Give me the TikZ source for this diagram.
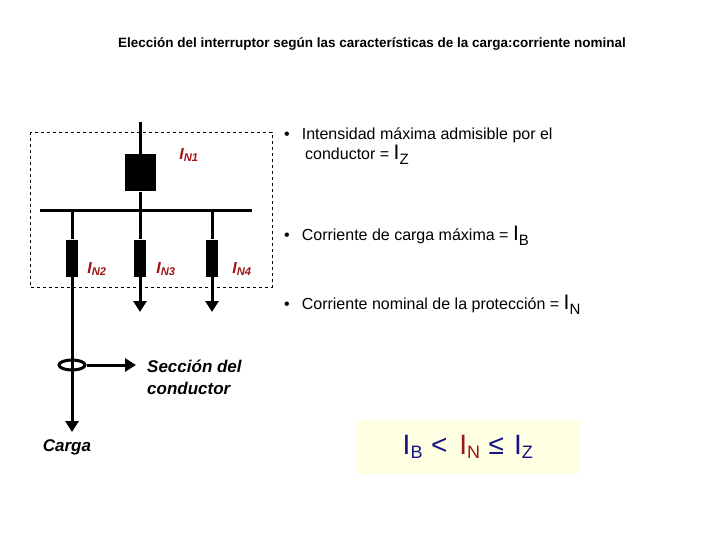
\documentclass[tikz,border=0pt]{standalone}
\usepackage{fontspec}
\setmainfont{Liberation Sans}
\usepackage{tikz}
\definecolor{fuseRed}{RGB}{160, 20, 20}
\definecolor{formulaBlue}{RGB}{20, 20, 130}
\definecolor{formulaBg}{RGB}{255, 255, 228}
\usetikzlibrary{shapes.geometric, arrows.meta, positioning}

\begin{document}
\begin{tikzpicture}[
    x=1pt, y=-1pt,
    wire/.style={line width=3pt, black},
    arrow/.style={wire, -{Triangle[length=11pt, width=13pt]}},
    fuse/.style={rectangle, fill=black, minimum width=12pt, minimum height=37pt, inner sep=0pt},
    rating/.style={font=\fontsize{16}{18}\selectfont\bfseries\itshape, text=fuseRed, inner sep=0pt},
    bullet/.style={font=\fontsize{16}{20}\selectfont, align=left, anchor=north west, inner sep=0pt},
    caption/.style={font=\fontsize{17}{22}\selectfont\bfseries\itshape, align=left, inner sep=0pt}
]
    \useasboundingbox (0,0) rectangle (720,540);
    \node[font=\fontsize{13.5}{16}\selectfont\bfseries] (title) at (372,44) {Elección del interruptor según las características de la carga:corriente nominal};

    % cuadro de distribucion
    \draw[dashed, thick] (30,132) rectangle (272,287);
    \coordinate (feed) at (140,122);
    \node[fuse, minimum width=31pt] (f1) at (140,173) {};
    \coordinate (busL) at (40,211);
    \coordinate (busR) at (252,211);
    \draw[wire] (feed) -- (f1);
    \draw[wire] (f1) -- (140,211);
    \draw[wire] (busL) -- (busR);
    \node[fuse] (f2) at (72,258) {};
    \node[fuse] (f3) at (140,258) {};
    \node[fuse] (f4) at (212,258) {};
    \coordinate (out3) at (140,312);
    \coordinate (out4) at (212,312);
    \coordinate (load) at (72,432);
    \draw[wire] (72,211) -- (f2);
    \draw[wire] (140,211) -- (f3);
    \draw[wire] (212,211) -- (f4);
    \draw[arrow] (f3) -- (out3);
    \draw[arrow] (f4) -- (out4);
    \draw[arrow] (f2) -- (load);

    \node[rating] (n1) at (189,155) {I\textsubscript{N1}};
    \node[rating] (n2) at (97,269) {I\textsubscript{N2}};
    \node[rating] (n3) at (166,269) {I\textsubscript{N3}};
    \node[rating] (n4) at (242,269) {I\textsubscript{N4}};

    % seccion del conductor
    \node[draw, ellipse, line width=3pt, minimum width=26pt, minimum height=10pt, inner sep=0pt] (sec) at (72,365) {};
    \coordinate (secEnd) at (136,365);
    \draw[arrow] (sec.east) -- (secEnd);
    \node[caption, anchor=north west] (seccion) at (147,360) {Sección del\\conductor};
    \node[caption] (carga) at (67,447) {Carga};

    % condiciones
    \node[bullet] (b1) at (284,128) {•\hspace{12pt}Intensidad máxima admisible por el\\\hspace{21pt}conductor = {\fontsize{21}{20}\selectfont I}\textsubscript{\fontsize{15}{15}\selectfont Z}};
    \node[bullet] (b2) at (284,226) {•\hspace{12pt}Corriente de carga máxima = {\fontsize{21}{20}\selectfont I}\textsubscript{\fontsize{15}{15}\selectfont B}};
    \node[bullet] (b3) at (284,295) {•\hspace{12pt}Corriente nominal de la protección = {\fontsize{21}{20}\selectfont I}\textsubscript{\fontsize{15}{15}\selectfont N}};

    \node[fill=formulaBg, minimum width=223pt, minimum height=54pt, inner sep=0pt,
          font=\fontsize{28}{30}\selectfont, text=formulaBlue] (formula) at (468,447)
        {I\textsubscript{\fontsize{18}{18}\selectfont B}\hspace{8pt}<\hspace{12pt}\textcolor{fuseRed}{I\textsubscript{\fontsize{18}{18}\selectfont N}}\hspace{8pt}≤\hspace{10pt}I\textsubscript{\fontsize{18}{18}\selectfont Z}};
\end{tikzpicture}
\end{document}
